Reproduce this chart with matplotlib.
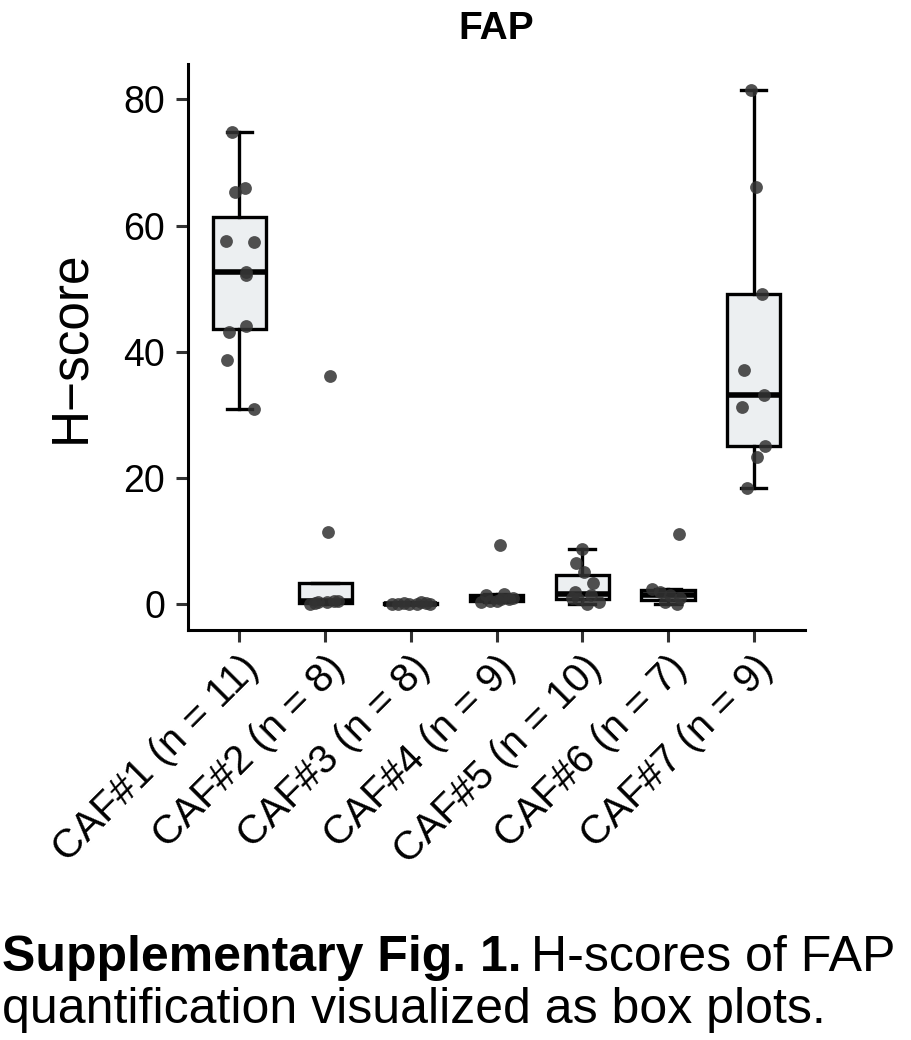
import matplotlib
matplotlib.use("Agg")
import matplotlib.pyplot as plt
import numpy as np

plt.rcParams['font.family'] = ['Liberation Sans', 'DejaVu Sans']

groups = ["CAF#1", "CAF#2", "CAF#3", "CAF#4", "CAF#5", "CAF#6", "CAF#7"]

# H-scores, one list per CAF line
caf1 = [74.8, 65.3, 65.9, 57.5, 57.4, 52.6, 52.1, 43.1, 44.1, 38.7, 30.9]
caf2 = [36.2, 11.5, 0.1, 0.2, 0.3, 0.4, 0.5, 0.6]
caf3 = [0.0, 0.1, 0.2, 0.0, 0.1, 0.3, 0.2, 0.1]
caf4 = [9.4, 1.4, 1.7, 0.3, 0.5, 0.6, 0.8, 0.9, 1.0]
caf5 = [8.8, 6.5, 5.1, 3.3, 1.9, 1.5, 1.0, 0.8, 0.3, 0.0]
caf6 = [11.1, 2.5, 2.0, 1.4, 1.0, 0.3, 0.0]
caf7 = [81.5, 66.1, 49.1, 37.1, 33.1, 31.2, 25.0, 23.4, 18.4]
values = [caf1, caf2, caf3, caf4, caf5, caf6, caf7]

# horizontal jitter of the dots (category units), as seen in the picture
jitter = [
    [-0.09, -0.05, 0.06, -0.16, 0.17, 0.08, 0.08, -0.12, 0.08, -0.15, 0.17],
    [0.06, 0.03, -0.18, -0.12, -0.08, 0.02, 0.10, 0.15],
    [-0.22, -0.15, -0.08, -0.02, 0.07, 0.12, 0.18, 0.22],
    [0.04, -0.12, 0.09, -0.18, -0.08, 0.0, 0.05, 0.14, 0.19],
    [0.0, -0.07, 0.02, 0.12, -0.09, 0.10, -0.12, -0.05, 0.19, 0.06],
    [0.13, -0.19, -0.09, 0.02, 0.14, -0.03, 0.10],
    [-0.03, 0.03, 0.10, -0.11, 0.12, -0.14, 0.13, 0.04, -0.08],
]

labels = ["%s (n = %d)" % (g, len(v)) for g, v in zip(groups, values)]
pos = np.arange(1, len(groups) + 1)

fig = plt.figure(figsize=(9.11, 10.40), dpi=100)
ax = fig.add_axes([0.2064, 0.3942, 0.6773, 0.5442])

ax.boxplot(values, positions=pos, widths=0.62, whis=1.5, showfliers=False,
           patch_artist=True, capwidths=0.3,
           boxprops=dict(facecolor='#ECEFF1', edgecolor='black', linewidth=2.4),
           medianprops=dict(color='black', linewidth=4.0),
           whiskerprops=dict(color='black', linewidth=2.4),
           capprops=dict(color='black', linewidth=2.4))

for i, (v, j) in enumerate(zip(values, jitter)):
    ax.scatter(pos[i] + np.array(j), v, s=85, color='#333333', alpha=0.85,
               linewidths=0, zorder=5)

allv = np.concatenate(values)
pad = 0.05 * (allv.max() - allv.min())
ax.set_ylim(allv.min() - pad, allv.max() + pad)
ax.set_xlim(0.4, len(groups) + 0.6)
ax.set_yticks([0, 20, 40, 60, 80])
ax.set_xticks(pos)
ax.set_xticklabels(labels, rotation=45, ha='right', va='top',
                   rotation_mode='anchor')

for side in ['top', 'right']:
    ax.spines[side].set_visible(False)
for side in ['left', 'bottom']:
    ax.spines[side].set_linewidth(2.2)
    ax.spines[side].set_color('black')

ax.tick_params(axis='both', length=8.6, width=2.2, color='#333333',
               labelcolor='black')
ax.tick_params(axis='y', pad=8, labelsize=27)
ax.tick_params(axis='x', pad=5, labelsize=29)

ax.set_ylabel("H\u2212score", fontsize=37, labelpad=20)
ax.set_title("FAP", fontsize=28, fontweight='bold', pad=18)

# caption under the figure: bold lead-in then normal text
t1 = fig.text(0.002, 0.066, "Supplementary Fig. 1.", fontsize=36,
              fontweight='bold', va='baseline')
fig.canvas.draw()
bb = t1.get_window_extent()
x2 = (bb.x1 + 10) / fig.bbox.width
fig.text(x2, 0.066, "H-scores of FAP", fontsize=36, va='baseline')
fig.text(0.002, 0.016, "quantification visualized as box plots.", fontsize=36,
         va='baseline')

fig.savefig("out.png", dpi=100)
